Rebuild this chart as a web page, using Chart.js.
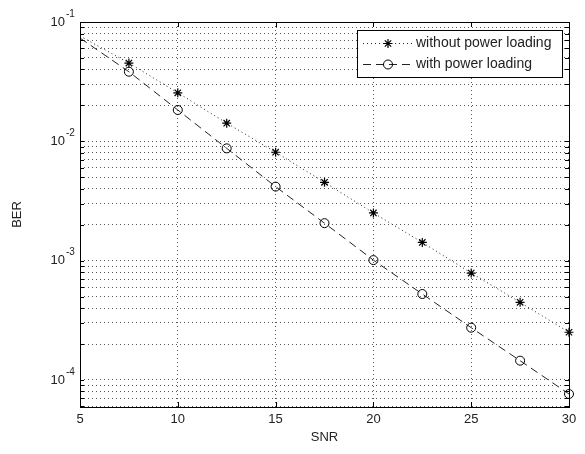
<!DOCTYPE html>
<html>
<head>
<meta charset="utf-8">
<script src="https://cdn.jsdelivr.net/npm/chart.js@4/dist/chart.umd.min.js"></script>
<style>
  html, body { margin: 0; padding: 0; background: #fff; }
  #wrap { width: 585px; height: 454px; }
</style>
</head>
<body>
<div id="wrap"><canvas id="c" width="585" height="454"></canvas></div>
<script>
// ---- data ----
const snr = [5, 7.5, 10, 12.5, 15, 17.5, 20, 22.5, 25, 27.5, 30];
const berWithout = [0.0763, 0.0453, 0.0255, 0.0142, 0.0081, 0.00453, 0.00251, 0.00142, 0.000787, 0.000447, 0.000251];
const berWith = [0.0734, 0.0383, 0.0183, 0.00873, 0.00417, 0.00206, 0.00101, 0.000525, 0.000274, 0.000145, 0.0000762];
const seriesLabels = ['without power loading', 'with power loading'];
const xTicks = [5, 10, 15, 20, 25, 30];
const yDecades = [-5, -4, -3, -2, -1];
const xTitle = 'SNR';
const yTitle = 'BER';

const yMin = 5.93e-5, yMax = 0.1;
const yTickValues = [];
yDecades.forEach(e => { for (let m = 1; m <= 9; m++) { const v = m * Math.pow(10, e); if (v >= yMin * 0.999 && v <= yMax * 1.001) yTickValues.push(v); } });

const FONT = '"Liberation Sans", Arial, sans-serif';
const TXT = '#222';

const mk = (x, y) => x.map((v, i) => ({ x: v, y: y[i] }));

const customPlugin = {
  id: 'custom',
  afterDraw(chart) {
    const ctx = chart.ctx;
    const a = chart.chartArea;
    const xs = chart.scales.x, ys = chart.scales.y;
    ctx.save();
    // inner ticks
    ctx.strokeStyle = '#000';
    ctx.lineWidth = 1;
    ctx.beginPath();
    yTickValues.forEach(v => {
      const y = Math.round(ys.getPixelForValue(v)) + 0.5;
      const len = 4;
      ctx.moveTo(a.left, y); ctx.lineTo(a.left + len, y);
      ctx.moveTo(a.right, y); ctx.lineTo(a.right - len, y);
    });
    xTicks.forEach(v => {
      const x = Math.round(xs.getPixelForValue(v)) + 0.5;
      ctx.moveTo(x, a.bottom); ctx.lineTo(x, a.bottom - 5);
      ctx.moveTo(x, a.top); ctx.lineTo(x, a.top + 5);
    });
    ctx.stroke();
    // box
    ctx.strokeRect(Math.round(a.left) + 0.5, Math.round(a.top) + 0.5, Math.round(a.right - a.left), Math.round(a.bottom - a.top));

    // y tick labels 10^e
    ctx.fillStyle = TXT;
    yDecades.forEach(e => {
      const v = Math.pow(10, e);
      if (v < yMin || v > yMax * 1.001) return;
      const y = ys.getPixelForValue(v);
      ctx.font = '13px ' + FONT;
      ctx.textAlign = 'right';
      ctx.textBaseline = 'middle';
      ctx.fillText('10', 65, y);
      ctx.font = '10px ' + FONT;
      ctx.textAlign = 'left';
      ctx.fillText(String(e), 66, y - 8);
    });

    // x title
    ctx.font = '13px ' + FONT;
    ctx.textAlign = 'center';
    ctx.textBaseline = 'middle';
    ctx.fillText(xTitle, (a.left + a.right) / 2, 437);

    // y title
    ctx.save();
    ctx.translate(17, (a.top + a.bottom) / 2);
    ctx.rotate(-Math.PI / 2);
    ctx.fillText(yTitle, 0, 0);
    ctx.restore();

    // legend
    const lx = 357.5, ly = 30.5, lw = 205, lh = 47;
    ctx.fillStyle = '#fff';
    ctx.fillRect(lx, ly, lw, lh);
    ctx.strokeStyle = '#000';
    ctx.lineWidth = 1;
    ctx.strokeRect(lx, ly, lw, lh);
    const rows = [43, 64];
    chart.data.datasets.forEach((ds, i) => {
      const y = rows[i] + 0.5;
      ctx.save();
      ctx.strokeStyle = '#222';
      ctx.lineWidth = 1;
      ctx.setLineDash(ds.borderDash);
      ctx.beginPath();
      ctx.moveTo(363, y); ctx.lineTo(413, y);
      ctx.stroke();
      ctx.restore();
      ctx.save();
      ctx.setLineDash([]);
      ctx.strokeStyle = '#000';
      ctx.fillStyle = 'rgba(0,0,0,0)';
      ctx.lineWidth = ds.pointBorderWidth;
      Chart.helpers.drawPoint(ctx, { pointStyle: ds.pointStyle, radius: 4.5, rotation: 0, borderWidth: ds.pointBorderWidth }, 388, y);
      ctx.restore();
      ctx.fillStyle = TXT;
      ctx.font = '14px ' + FONT;
      ctx.textAlign = 'left';
      ctx.textBaseline = 'middle';
      ctx.fillText(ds.label, 416, y);
    });
    ctx.restore();
  }
};

new Chart(document.getElementById('c'), {
  type: 'line',
  data: {
    datasets: [
      {
        label: seriesLabels[0],
        data: mk(snr, berWithout),
        borderColor: '#222',
        borderWidth: 1,
        borderDash: [1, 3],
        pointStyle: 'star',
        pointRadius: snr.map((v, i) => i === 0 ? 0 : 4.5),
        pointBorderColor: '#000',
        pointBackgroundColor: 'rgba(0,0,0,0)',
        pointBorderWidth: 1.2,
        tension: 0,
        clip: false
      },
      {
        label: seriesLabels[1],
        data: mk(snr, berWith),
        borderColor: '#222',
        borderWidth: 1,
        borderDash: [8, 5],
        pointStyle: 'circle',
        pointRadius: snr.map((v, i) => i === 0 ? 0 : 4.5),
        pointBorderColor: '#000',
        pointBackgroundColor: 'rgba(0,0,0,0)',
        pointBorderWidth: 1,
        tension: 0,
        clip: false
      }
    ]
  },
  options: {
    responsive: false,
    animation: false,
    devicePixelRatio: 1,
    layout: { padding: { left: 0, top: 22, right: 16, bottom: 0 } },
    plugins: { legend: { display: false }, tooltip: { enabled: false } },
    scales: {
      x: {
        type: 'linear',
        min: 5, max: 30,
        afterBuildTicks(scale) { scale.ticks = xTicks.map(v => ({ value: v })); },
        afterFit(scale) { scale.height = 47; },
        ticks: { color: TXT, font: { family: FONT, size: 13 }, padding: 5, maxRotation: 0, autoSkip: false, callback: v => String(v) },
        grid: { color: '#555', lineWidth: 1, drawTicks: false },
        border: { display: false, dash: [1, 3] },
        title: { display: false }
      },
      y: {
        type: 'logarithmic',
        min: yMin, max: yMax,
        afterBuildTicks(scale) { scale.ticks = yTickValues.map(v => ({ value: v })); },
        afterFit(scale) { scale.width = 80; },
        ticks: { display: false, autoSkip: false },
        grid: { color: '#555', lineWidth: 1, drawTicks: false },
        border: { display: false, dash: [1, 3] },
        title: { display: false }
      }
    }
  },
  plugins: [customPlugin]
});
</script>
</body>
</html>
